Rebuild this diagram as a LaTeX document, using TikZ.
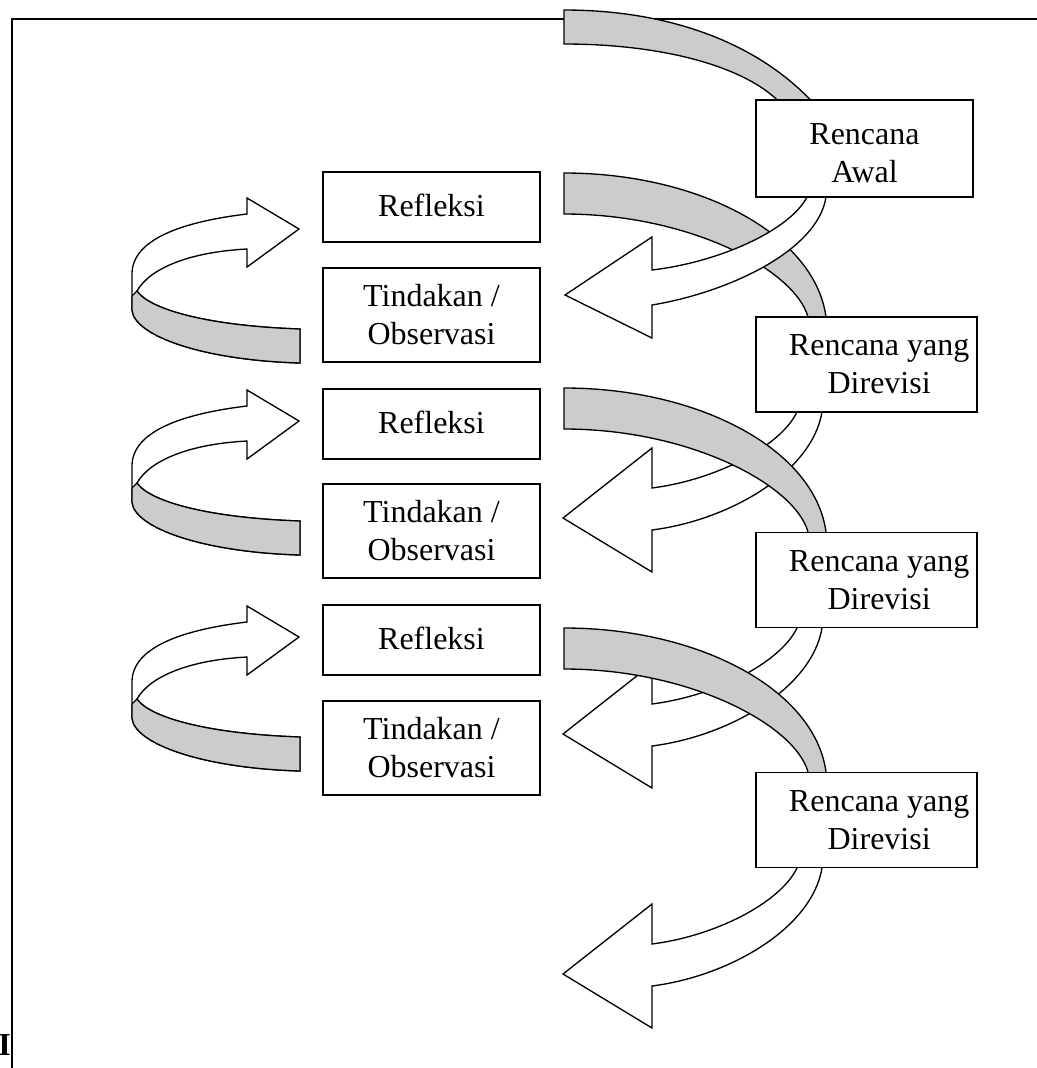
\documentclass[tikz,border=0pt]{standalone}
\usepackage{fontspec}
\setmainfont{Liberation Serif}
\begin{document}
\begin{tikzpicture}[x=0.75pt,y=-0.75pt,
  band/.style={draw=black,line width=1pt,fill=gray!40,line join=miter},
  warrow/.style={draw=black,line width=1pt,fill=white,line join=miter},
  frameline/.style={draw=black,line width=1.5pt},
  box/.style={draw=black,line width=1.2pt,fill=white,inner sep=0pt,align=center,
    font=\fontsize{24}{28.5}\selectfont},
  lbox/.style={box,minimum width=162.75pt},
  rbox/.style={box,minimum width=162.75pt,minimum height=72.75pt},
  dbox/.style={box,minimum width=165.75pt,minimum height=71.25pt}]
\useasboundingbox (0,0) rectangle (1037,1068);
% frame
\coordinate (ftl) at (12,19);
\coordinate (ftr) at (1040,19);
\coordinate (fbl) at (12,1072);
\draw[frameline] (ftr) -- (ftl) -- (fbl);
\node[anchor=base east,inner sep=0pt,font=\fontsize{24}{28}\selectfont\bfseries] (mark) at (11,1055) {I};

% gray band 0
\path[band] (564,10) .. controls (680,10) and (780,50) .. (835,130) -- (795,125)
  .. controls (775,75) and (680,44) .. (564,44) -- cycle;
% gray band 1
\begin{scope}[shift={(0,173)}]
\path[band] (564,0) .. controls (700,0) and (815,62) .. (826,144) -- (826,150) -- (808,150) -- (808,144)
  .. controls (795,97) and (690,41) .. (564,41) -- cycle;
\end{scope}
% white arrow 0
\path[warrow] (807,190) -- (807,197) .. controls (790,230) and (720,262) .. (652,270) -- (652,237) -- (565,295)
  -- (652,338) -- (652,305) .. controls (730,292) and (818,250) .. (826,197) -- (826,190) -- cycle;
% white arrow 1
\begin{scope}[shift={(0,412)}]
\path[warrow] (797,-8) -- (797,0) .. controls (780,35) and (715,68) .. (652,76) -- (652,36) -- (563,106)
  -- (652,160) -- (652,118) .. controls (730,108) and (812,60) .. (822,0) -- (822,-8) -- cycle;
\end{scope}
% gray band 2
\begin{scope}[shift={(0,388)}]
\path[band] (564,0) .. controls (700,0) and (815,62) .. (826,144) -- (826,150) -- (808,150) -- (808,144)
  .. controls (795,97) and (690,41) .. (564,41) -- cycle;
\end{scope}
% white arrow 2
\begin{scope}[shift={(0,628)}]
\path[warrow] (797,-8) -- (797,0) .. controls (780,35) and (715,68) .. (652,76) -- (652,36) -- (563,106)
  -- (652,160) -- (652,118) .. controls (730,108) and (812,60) .. (822,0) -- (822,-8) -- cycle;
\end{scope}
% gray band 3
\begin{scope}[shift={(0,628)}]
\path[band] (564,0) .. controls (700,0) and (815,62) .. (826,144) -- (826,150) -- (808,150) -- (808,144)
  .. controls (795,97) and (690,41) .. (564,41) -- cycle;
\end{scope}
% white arrow 3
\begin{scope}[shift={(0,868)}]
\path[warrow] (797,-8) -- (797,0) .. controls (780,35) and (715,68) .. (652,76) -- (652,36) -- (563,106)
  -- (652,160) -- (652,118) .. controls (730,108) and (812,60) .. (822,0) -- (822,-8) -- cycle;
\end{scope}

% U-turn arrows on the left
\foreach \dy in {0,192,408}{
\begin{scope}[shift={(0,\dy)}]
\path[warrow] (247,214) .. controls (180,222) and (133,240) .. (132,273) -- (132,310)
  .. controls (134,335) and (200,360) .. (300,363) -- (300,329)
  .. controls (210,326) and (150,310) .. (137,291)
  .. controls (150,268) and (190,252) .. (247,249) -- (247,267) -- (299,229) -- (247,198) -- cycle;
\path[band] (137,291) .. controls (150,310) and (210,326) .. (300,329) -- (300,363)
  .. controls (200,360) and (134,335) .. (132,310) -- (132,296) -- cycle;
\end{scope}}

% boxes
\node[rbox] (awal) at (864.5,148.5) {\rule{0pt}{22.5pt}Rencana\\Awal};
\node[dbox] (rev1) at (866.5,364.5) {\hspace*{19pt}Rencana yang\\\hspace*{19pt}Direvisi};
\node[dbox] (rev2) at (866.5,580) {\hspace*{19pt}Rencana yang\\\hspace*{19pt}Direvisi};
\node[dbox] (rev3) at (866.5,820) {\hspace*{19pt}Rencana yang\\\hspace*{19pt}Direvisi};
\node[lbox,minimum height=52.5pt] (ref1) at (431.5,207) {\raisebox{3pt}{Refleksi}};
\node[lbox,minimum height=70.5pt] (tin1) at (431.5,315) {Tindakan /\\Observasi};
\node[lbox,minimum height=52.5pt] (ref2) at (431.5,424) {\raisebox{3pt}{Refleksi}};
\node[lbox,minimum height=70.5pt] (tin2) at (431.5,531) {Tindakan /\\Observasi};
\node[lbox,minimum height=52.5pt] (ref3) at (431.5,640) {\raisebox{3pt}{Refleksi}};
\node[lbox,minimum height=70.5pt] (tin3) at (431.5,748) {Tindakan /\\Observasi};
\end{tikzpicture}
\end{document}
